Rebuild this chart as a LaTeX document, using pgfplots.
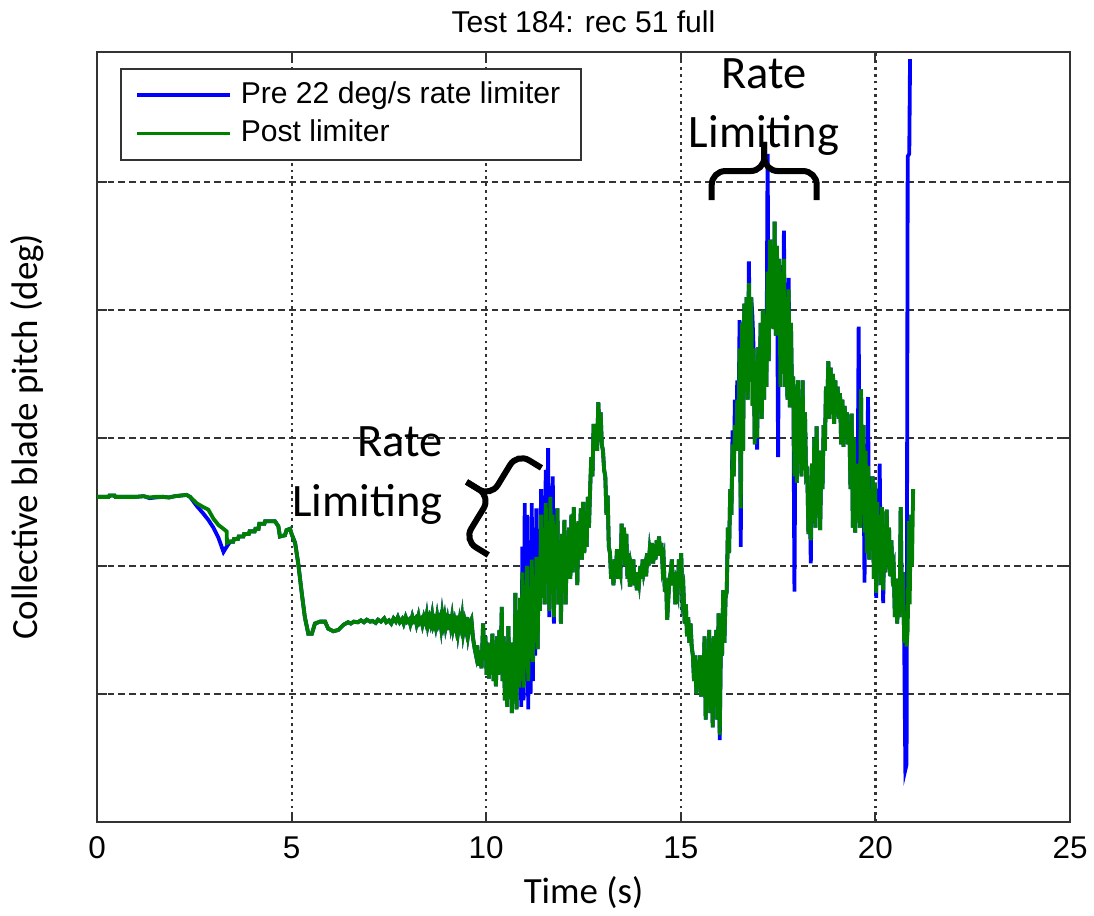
\documentclass[border=0pt]{standalone}
\usepackage{pgfplots}
\pgfplotsset{compat=1.18}
\usepackage{fontspec}
\setmainfont{Liberation Sans}
\newfontfamily\calibri{Carlito}
\definecolor{mblue}{RGB}{0,0,255}
\definecolor{mgreen}{RGB}{0,128,0}
\begin{document}
\begin{tikzpicture}
\useasboundingbox (-35.47pt,-34.37pt) rectangle (364.53pt,300.53pt);
\begin{axis}[
  scale only axis, width=355.76pt, height=281.53pt,
  at={(0,0)}, anchor=south west,
  xmin=0, xmax=25, ymin=0, ymax=6.016,
  xtick={0,5,10,15,20,25}, ytick={1,2,3,4,5}, yticklabels={},
  /pgf/number format/assume math mode=true,
  tick align=inside, major tick length=3.7pt,
  tick style={black!80, line width=0.75pt},
  axis line style={black!80, line width=0.75pt},
  xmajorgrids, ymajorgrids,
  x grid style={black!80, line width=0.8pt, dash pattern=on 1pt off 1.5pt},
  y grid style={black!80, line width=0.8pt, dash pattern=on 2.4pt off 1.5pt},
  xticklabel style={font=\fontsize{11.5}{13}\selectfont, anchor=base, yshift=-13.5pt, inner sep=0pt},
  title={Test 184: rec 51 full},
  every axis title/.style={at={(axis description cs:0.5,1)}, anchor=base, yshift=7pt, inner sep=0pt, font=\fontsize{11}{13}\selectfont},
  xlabel={Time (s)},
  xlabel style={at={([yshift=-30pt]axis description cs:0.5,0)}, anchor=base, inner sep=0pt, font=\calibri\fontsize{13.5}{16}\selectfont},
  ylabel={Collective blade pitch (deg)},
  ylabel style={at={([xshift=-21.9pt]axis description cs:0,0.5)}, anchor=base, inner sep=0pt, font=\calibri\fontsize{13.5}{16}\selectfont},
  legend image code/.code={\draw[#1] (0pt,0pt) -- (33.7pt,0pt);},
  legend style={at={(axis description cs:0.02364,0.97922)}, anchor=north west, draw=black!80, line width=0.75pt, fill=white,
    inner xsep=5.3pt, inner ysep=2.6pt, row sep=0pt, column sep=1pt, font=\fontsize{11}{13}\selectfont,
    nodes={inner xsep=2.4pt, inner ysep=1.7pt, text height=8.2pt, text depth=2.4pt}},
  legend cell align=left,
]
% Pre 22 deg/s rate limiter
\addplot[mblue, line width=1.4pt] coordinates {
(0.00,2.54)(0.30,2.54)(0.32,2.55)(0.45,2.55)(0.47,2.54)(1.00,2.54)(1.20,2.545)(1.35,2.53)(1.50,2.535)(1.70,2.54)(1.85,2.535)(2.00,2.545)(2.15,2.55)(2.30,2.555)
(2.39,2.54)(2.56,2.47)(2.73,2.41)(2.86,2.36)(2.99,2.30)(3.12,2.22)(3.25,2.11)(3.33,2.15)(3.42,2.19)
(3.50,2.19)(3.52,2.21)(3.62,2.21)(3.64,2.23)(3.76,2.23)(3.78,2.25)(3.90,2.25)(3.92,2.27)(4.05,2.27)(4.07,2.29)(4.15,2.29)(4.17,2.33)(4.30,2.33)(4.32,2.35)(4.57,2.35)(4.66,2.31)(4.70,2.23)(4.83,2.24)(4.87,2.28)(4.96,2.29)(5.00,2.25)(5.09,2.18)(5.17,2.02)(5.26,1.79)(5.34,1.60)(5.43,1.47)(5.52,1.47)(5.60,1.55)(5.73,1.565)(5.86,1.565)(5.94,1.51)(6.07,1.49)(6.20,1.50)(6.33,1.54)
(6.45,1.56)(6.52,1.55)(6.60,1.565)(6.70,1.56)(6.78,1.575)(6.86,1.56)(6.93,1.58)(7.02,1.565)(7.08,1.57)(7.16,1.555)(7.22,1.58)(7.30,1.565)(7.38,1.59)(7.43,1.56)(7.50,1.575)(7.56,1.55)(7.62,1.59)(7.68,1.565)(7.73,1.60)(7.78,1.56)(7.84,1.585)(7.88,1.55)(7.93,1.60)(7.97,1.565)(8.02,1.58)(8.05,1.545)(8.10,1.605)(8.13,1.57)(8.18,1.59)(8.21,1.545)(8.26,1.61)(8.29,1.56)(8.33,1.58)(8.36,1.54)(8.40,1.60)(8.44,1.56)(8.47,1.615)(8.50,1.535)(8.54,1.59)(8.57,1.55)(8.61,1.62)(8.64,1.54)(8.67,1.57)(8.70,1.525)(8.74,1.61)(8.77,1.55)(8.81,1.59)(8.84,1.52)(8.87,1.62)(8.90,1.55)(8.93,1.60)(8.96,1.52)(9.00,1.58)(9.03,1.50)(9.06,1.62)(9.09,1.54)(9.12,1.60)(9.15,1.51)(9.19,1.57)(9.22,1.52)(9.25,1.61)(9.28,1.49)(9.32,1.58)(9.35,1.53)(9.38,1.60)(9.41,1.48)(9.45,1.56)(9.48,1.51)(9.51,1.60)(9.54,1.47)(9.58,1.55)
(9.62,1.58)(9.66,1.44)(9.70,1.36)(9.74,1.30)(9.77,1.38)(9.80,1.22)(9.84,1.34)(9.88,1.20)(9.92,1.55)(9.95,1.30)(9.98,1.45)(10.01,1.15)(10.04,1.40)(10.07,1.12)(10.10,1.35)(10.13,1.25)(10.16,1.47)(10.19,1.10)(10.22,1.38)(10.25,1.06)(10.28,1.45)(10.31,1.15)(10.34,1.50)(10.37,1.20)(10.40,1.68)(10.42,1.10)(10.45,1.45)(10.48,0.95)(10.51,1.35)(10.54,0.90)(10.57,1.53)(10.60,1.00)(10.63,1.40)(10.66,0.85)(10.69,1.30)(10.72,0.95)(10.75,1.79)(10.78,0.88)(10.81,1.60)(10.84,1.05)
(10.87,1.75)(10.90,0.90)(10.93,2.15)(10.96,0.95)(10.99,2.49)(11.02,1.10)(11.05,2.40)(11.08,0.88)(11.11,2.20)(11.14,1.00)(11.17,2.49)(11.20,1.10)(11.23,2.30)(11.26,1.30)(11.29,2.45)(11.32,1.35)(11.35,2.20)(11.38,1.65)(11.41,2.60)(11.44,1.75)(11.47,2.55)(11.50,1.70)(11.53,2.75)(11.56,1.90)(11.59,2.92)(11.62,1.60)(11.65,2.62)(11.68,1.80)(11.71,2.70)(11.74,1.55)(11.77,2.45)
(11.80,1.90)(11.83,2.45)(11.86,1.70)(11.89,2.20)(11.92,1.55)(11.95,2.25)(11.98,1.80)(12.01,2.36)(12.04,1.70)(12.07,2.10)(12.10,1.90)(12.13,2.30)(12.16,1.90)(12.19,2.40)(12.22,1.95)(12.25,2.46)(12.28,2.00)(12.31,2.30)(12.34,1.85)(12.37,2.35)(12.40,2.05)(12.43,2.45)(12.46,2.05)(12.49,2.50)(12.52,2.10)(12.55,2.40)(12.58,2.15)(12.61,2.54)(12.64,2.30)(12.67,2.60)(12.70,2.85)(12.73,2.70)(12.76,3.11)(12.79,2.95)(12.82,3.10)(12.85,2.90)(12.88,3.28)(12.91,3.05)(12.94,3.20)(12.97,2.95)(13.00,2.90)(13.03,2.75)(13.06,2.70)(13.09,2.40)(13.12,2.55)(13.15,2.15)(13.18,2.10)(13.21,1.90)(13.24,2.00)(13.27,1.85)(13.30,2.05)(13.33,1.95)(13.36,2.13)(13.39,1.90)(13.42,2.00)(13.45,1.95)(13.48,2.33)(13.51,2.05)(13.54,2.30)(13.57,2.00)(13.60,2.25)(13.63,1.90)(13.66,2.10)(13.69,1.84)(13.72,2.00)(13.75,1.95)(13.78,2.05)(13.81,1.85)(13.84,1.95)(13.87,1.81)(13.90,1.95)(13.93,1.88)(13.96,2.00)(13.99,1.90)(14.02,2.05)(14.05,1.95)(14.08,2.00)(14.11,1.92)(14.14,2.10)(14.17,2.00)(14.20,2.12)(14.23,2.05)(14.26,2.18)(14.29,2.02)(14.32,2.15)(14.35,2.05)(14.38,2.20)(14.41,2.08)(14.44,2.23)(14.47,2.10)(14.50,2.18)(14.53,2.00)(14.56,2.05)(14.59,1.80)(14.62,1.90)(14.65,1.58)(14.68,1.75)(14.71,1.90)(14.74,1.95)(14.77,2.05)(14.80,1.85)(14.83,1.95)(14.86,1.70)(14.89,1.85)(14.92,1.80)(14.95,2.05)(14.98,1.90)(15.01,2.10)(15.04,1.75)(15.07,1.80)(15.10,1.55)(15.13,1.70)(15.16,1.45)(15.19,1.60)(15.22,1.40)(15.25,1.55)(15.28,1.37)(15.31,1.30)(15.34,1.10)(15.37,1.30)(15.40,1.00)(15.43,1.25)(15.46,1.05)(15.49,1.30)(15.52,0.98)(15.55,1.20)(15.58,1.05)(15.61,1.45)(15.64,0.80)(15.67,1.35)(15.70,0.90)(15.73,1.50)(15.76,0.85)(15.79,1.40)(15.82,0.74)(15.85,1.45)(15.88,0.90)(15.91,1.50)(15.94,0.80)(15.97,1.63)(16.00,0.64)(16.03,1.40)(16.06,1.30)(16.09,1.81)(16.12,1.40)(16.15,1.75)(16.18,1.80)(16.21,2.30)(16.24,2.10)(16.27,2.60)(16.30,2.40)(16.33,3.06)(16.36,2.70)(16.39,3.30)(16.42,2.90)(16.45,3.45)(16.48,3.00)(16.51,3.92)(16.54,2.15)(16.57,3.90)(16.60,2.90)(16.63,4.05)(16.66,3.40)(16.69,4.10)(16.72,3.30)(16.75,4.38)(16.78,3.50)(16.81,4.10)(16.84,3.95)(16.87,3.70)(16.90,2.95)(16.93,3.60)(16.96,2.91)(16.99,3.71)(17.02,3.20)(17.05,3.90)(17.08,3.15)(17.11,4.00)(17.14,3.30)(17.17,3.95)(17.20,3.40)(17.23,5.22)(17.26,3.60)(17.29,4.55)(17.32,3.90)(17.35,4.50)(17.38,3.85)(17.41,4.69)(17.44,3.80)(17.47,4.50)(17.50,2.85)(17.53,4.40)(17.56,3.40)(17.59,4.30)(17.62,3.50)(17.65,4.62)(17.68,3.40)(17.71,4.10)(17.74,3.30)(17.77,4.25)(17.80,3.24)(17.83,3.90)(17.86,3.30)(17.89,3.48)(17.92,1.80)(17.95,3.40)(17.98,2.65)(18.01,3.45)(18.04,2.80)(18.07,3.30)(18.10,2.70)(18.13,3.45)(18.16,2.75)(18.19,3.20)(18.22,2.70)(18.25,2.72)(18.28,2.25)(18.31,2.60)(18.34,2.02)(18.37,2.80)(18.40,2.40)(18.43,3.00)(18.46,2.30)(18.49,3.09)(18.52,2.50)(18.55,2.90)(18.58,2.28)(18.61,2.80)(18.64,2.60)(18.67,3.10)(18.70,2.90)(18.73,3.40)(18.76,3.20)(18.79,3.60)(18.82,3.15)(18.85,3.55)(18.88,3.20)(18.91,3.50)(18.94,3.11)(18.97,3.45)(19.00,3.20)(19.03,3.40)(19.06,3.15)(19.09,3.35)(19.12,2.95)(19.15,3.30)(19.18,2.93)(19.21,3.25)(19.24,3.00)(19.27,3.20)(19.30,2.95)(19.33,3.10)(19.36,2.60)(19.39,3.19)(19.42,2.30)(19.45,3.00)(19.48,2.26)(19.51,2.80)(19.54,2.40)(19.57,3.87)(19.60,2.30)(19.63,3.38)(19.66,2.40)(19.69,3.10)(19.72,1.87)(19.75,2.90)(19.78,2.10)(19.81,3.32)(19.84,2.05)(19.87,2.60)(19.90,2.20)(19.93,2.70)(19.96,1.90)(19.99,2.65)(20.02,1.75)(20.05,2.50)(20.08,2.00)(20.11,2.80)(20.14,1.85)(20.17,2.46)(20.20,1.71)(20.23,2.30)(20.26,1.95)(20.29,2.44)(20.32,2.00)(20.35,2.30)(20.38,1.92)(20.41,2.20)(20.44,1.95)(20.47,1.99)(20.50,1.60)(20.53,1.90)(20.56,1.55)(20.59,1.85)(20.62,1.60)(20.65,2.46)(20.68,1.65)(20.71,1.95)(20.74,1.40)(20.77,0.41)(20.80,0.45)(20.83,5.20)(20.87,5.22)(20.89,5.96)
};
\addlegendentry{Pre 22 deg/s rate limiter}
% Post limiter
\addplot[mgreen, line width=1.4pt] coordinates {
(0.00,2.54)(0.30,2.54)(0.32,2.55)(0.45,2.55)(0.47,2.54)(1.00,2.54)(1.20,2.545)(1.35,2.535)(1.50,2.54)(1.70,2.54)(1.85,2.535)(2.00,2.545)(2.15,2.55)(2.30,2.555)
(2.39,2.54)(2.56,2.49)(2.73,2.46)(2.86,2.44)(2.99,2.37)(3.12,2.32)(3.25,2.29)(3.33,2.27)(3.34,2.18)(3.42,2.19)
(3.50,2.19)(3.52,2.21)(3.62,2.21)(3.64,2.23)(3.76,2.23)(3.78,2.25)(3.90,2.25)(3.92,2.27)(4.05,2.27)(4.07,2.29)(4.15,2.29)(4.17,2.33)(4.30,2.33)(4.32,2.35)(4.57,2.35)(4.66,2.31)(4.70,2.23)(4.83,2.24)(4.87,2.28)(4.96,2.29)(5.00,2.25)(5.09,2.18)(5.17,2.02)(5.26,1.79)(5.34,1.60)(5.43,1.47)(5.52,1.47)(5.60,1.55)(5.73,1.565)(5.86,1.565)(5.94,1.51)(6.07,1.49)(6.20,1.50)(6.33,1.54)
(6.45,1.56)(6.52,1.55)(6.60,1.565)(6.70,1.56)(6.78,1.575)(6.86,1.56)(6.93,1.58)(7.02,1.565)(7.08,1.57)(7.16,1.555)(7.22,1.58)(7.30,1.565)(7.38,1.59)(7.43,1.56)(7.50,1.575)(7.56,1.55)(7.62,1.59)(7.68,1.565)(7.73,1.60)(7.78,1.56)(7.84,1.585)(7.88,1.55)(7.93,1.60)(7.97,1.565)(8.02,1.58)(8.05,1.545)(8.10,1.605)(8.13,1.57)(8.18,1.59)(8.21,1.545)(8.26,1.61)(8.29,1.56)(8.33,1.58)(8.36,1.54)(8.40,1.60)(8.44,1.56)(8.47,1.615)(8.50,1.535)(8.54,1.59)(8.57,1.55)(8.61,1.62)(8.64,1.54)(8.67,1.57)(8.70,1.525)(8.74,1.61)(8.77,1.55)(8.81,1.59)(8.84,1.52)(8.87,1.62)(8.90,1.55)(8.93,1.60)(8.96,1.52)(9.00,1.58)(9.03,1.50)(9.06,1.62)(9.09,1.54)(9.12,1.60)(9.15,1.51)(9.19,1.57)(9.22,1.52)(9.25,1.61)(9.28,1.49)(9.32,1.58)(9.35,1.53)(9.38,1.60)(9.41,1.48)(9.45,1.56)(9.48,1.51)(9.51,1.60)(9.54,1.47)(9.58,1.55)
(9.62,1.58)(9.66,1.44)(9.70,1.36)(9.74,1.30)(9.77,1.38)(9.80,1.22)(9.84,1.34)(9.88,1.20)(9.92,1.55)(9.95,1.30)(9.98,1.45)(10.01,1.15)(10.04,1.40)(10.07,1.12)(10.10,1.35)(10.13,1.25)(10.16,1.47)(10.19,1.10)(10.22,1.38)(10.25,1.06)(10.28,1.45)(10.31,1.15)(10.34,1.50)(10.37,1.20)(10.40,1.68)(10.42,1.10)(10.45,1.45)(10.48,0.95)(10.51,1.35)(10.54,0.90)(10.57,1.53)(10.60,1.00)(10.63,1.40)(10.66,0.85)(10.69,1.30)(10.72,0.95)(10.75,1.79)(10.78,0.88)(10.81,1.60)(10.84,1.05)
(10.87,1.75)(10.90,1.10)(10.93,1.95)(10.96,1.05)(10.99,1.85)(11.02,1.20)(11.05,2.00)(11.08,1.10)(11.11,1.70)(11.14,1.30)(11.17,2.05)(11.20,1.25)(11.23,1.90)(11.26,1.40)(11.29,2.07)(11.32,1.35)(11.35,1.95)(11.38,1.65)(11.41,2.40)(11.44,1.75)(11.47,2.30)(11.50,1.70)(11.53,2.49)(11.56,1.90)(11.59,2.35)(11.62,1.65)(11.65,2.54)(11.68,1.80)(11.71,2.40)(11.74,1.60)(11.77,2.30)
(11.80,1.90)(11.83,2.45)(11.86,1.70)(11.89,2.20)(11.92,1.55)(11.95,2.25)(11.98,1.80)(12.01,2.36)(12.04,1.70)(12.07,2.10)(12.10,1.90)(12.13,2.30)(12.16,1.90)(12.19,2.40)(12.22,1.95)(12.25,2.46)(12.28,2.00)(12.31,2.30)(12.34,1.85)(12.37,2.35)(12.40,2.05)(12.43,2.45)(12.46,2.05)(12.49,2.50)(12.52,2.10)(12.55,2.40)(12.58,2.15)(12.61,2.54)(12.64,2.30)(12.67,2.60)(12.70,2.85)(12.73,2.70)(12.76,3.11)(12.79,2.95)(12.82,3.10)(12.85,2.90)(12.88,3.28)(12.91,3.05)(12.94,3.20)(12.97,2.95)(13.00,2.90)(13.03,2.75)(13.06,2.70)(13.09,2.40)(13.12,2.55)(13.15,2.15)(13.18,2.10)(13.21,1.90)(13.24,2.00)(13.27,1.85)(13.30,2.05)(13.33,1.95)(13.36,2.13)(13.39,1.90)(13.42,2.00)(13.45,1.95)(13.48,2.33)(13.51,2.05)(13.54,2.30)(13.57,2.00)(13.60,2.25)(13.63,1.90)(13.66,2.10)(13.69,1.84)(13.72,2.00)(13.75,1.95)(13.78,2.05)(13.81,1.85)(13.84,1.95)(13.87,1.81)(13.90,1.95)(13.93,1.88)(13.96,2.00)(13.99,1.90)(14.02,2.05)(14.05,1.95)(14.08,2.00)(14.11,1.92)(14.14,2.10)(14.17,2.00)(14.20,2.12)(14.23,2.05)(14.26,2.18)(14.29,2.02)(14.32,2.15)(14.35,2.05)(14.38,2.20)(14.41,2.08)(14.44,2.23)(14.47,2.10)(14.50,2.18)(14.53,2.00)(14.56,2.05)(14.59,1.80)(14.62,1.90)(14.65,1.58)(14.68,1.75)(14.71,1.90)(14.74,1.95)(14.77,2.05)(14.80,1.85)(14.83,1.95)(14.86,1.70)(14.89,1.85)(14.92,1.80)(14.95,2.05)(14.98,1.90)(15.01,2.10)(15.04,1.75)(15.07,1.80)(15.10,1.55)(15.13,1.70)(15.16,1.45)(15.19,1.60)(15.22,1.40)(15.25,1.55)(15.28,1.37)(15.31,1.30)(15.34,1.10)(15.37,1.30)(15.40,1.00)(15.43,1.25)(15.46,1.05)(15.49,1.30)(15.52,0.98)(15.55,1.20)(15.58,1.05)(15.61,1.45)(15.64,0.80)(15.67,1.35)(15.70,0.90)(15.73,1.50)(15.76,0.85)(15.79,1.40)(15.82,0.74)(15.85,1.45)(15.88,0.90)(15.91,1.50)(15.94,0.80)(15.97,1.63)(16.00,0.68)(16.03,1.40)(16.06,1.30)(16.09,1.81)(16.12,1.40)(16.15,1.75)(16.18,1.80)(16.21,2.30)(16.24,2.10)(16.27,2.60)(16.30,2.40)(16.33,2.95)(16.36,2.70)(16.39,3.10)(16.42,2.90)(16.45,3.30)(16.48,3.00)(16.51,3.70)(16.54,2.45)(16.57,3.90)(16.60,2.90)(16.63,4.05)(16.66,3.40)(16.69,4.10)(16.72,3.30)(16.75,4.21)(16.78,3.50)(16.81,4.10)(16.84,3.25)(16.87,3.70)(16.90,2.95)(16.93,3.60)(16.96,3.00)(16.99,3.71)(17.02,3.20)(17.05,3.90)(17.08,3.15)(17.11,4.00)(17.14,3.30)(17.17,3.95)(17.20,3.40)(17.23,4.30)(17.26,3.60)(17.29,4.55)(17.32,3.90)(17.35,4.50)(17.38,3.85)(17.41,4.69)(17.44,3.80)(17.47,4.50)(17.50,3.80)(17.53,4.40)(17.56,3.40)(17.59,4.30)(17.62,3.50)(17.65,4.40)(17.68,3.40)(17.71,4.10)(17.74,3.30)(17.77,4.16)(17.80,3.24)(17.83,3.90)(17.86,3.30)(17.89,3.48)(17.92,2.70)(17.95,3.40)(17.98,2.65)(18.01,3.45)(18.04,2.80)(18.07,3.30)(18.10,2.70)(18.13,3.45)(18.16,2.75)(18.19,3.20)(18.22,2.70)(18.25,2.72)(18.28,2.25)(18.31,2.60)(18.34,2.20)(18.37,2.80)(18.40,2.40)(18.43,3.00)(18.46,2.30)(18.49,3.09)(18.52,2.50)(18.55,2.90)(18.58,2.28)(18.61,2.80)(18.64,2.60)(18.67,3.10)(18.70,2.90)(18.73,3.40)(18.76,3.20)(18.79,3.60)(18.82,3.15)(18.85,3.55)(18.88,3.20)(18.91,3.50)(18.94,3.11)(18.97,3.45)(19.00,3.20)(19.03,3.40)(19.06,3.15)(19.09,3.35)(19.12,2.95)(19.15,3.30)(19.18,2.93)(19.21,3.25)(19.24,3.00)(19.27,3.20)(19.30,2.95)(19.33,3.10)(19.36,2.60)(19.39,3.19)(19.42,2.30)(19.45,3.00)(19.48,2.26)(19.51,2.80)(19.54,2.40)(19.57,2.70)(19.60,2.30)(19.63,3.38)(19.66,2.40)(19.69,3.10)(19.72,2.26)(19.75,2.90)(19.78,2.10)(19.81,2.78)(19.84,2.05)(19.87,2.60)(19.90,2.20)(19.93,2.70)(19.96,1.90)(19.99,2.65)(20.02,1.79)(20.05,2.50)(20.08,2.00)(20.11,2.40)(20.14,1.85)(20.17,2.46)(20.20,1.81)(20.23,2.30)(20.26,1.95)(20.29,2.44)(20.32,2.00)(20.35,2.30)(20.38,1.92)(20.41,2.20)(20.44,1.95)(20.47,1.99)(20.50,1.60)(20.53,1.90)(20.56,1.55)(20.59,1.85)(20.62,1.60)(20.65,2.46)(20.68,1.65)(20.71,1.95)(20.74,1.40)(20.77,1.63)(20.80,1.37)(20.83,1.50)(20.86,2.35)(20.88,1.70)(20.91,2.40)(20.94,2.00)(20.97,2.60)
};
\addlegendentry{Post limiter}
% annotations
\node[anchor=base east, inner sep=0pt, font=\calibri\fontsize{17}{20}\selectfont] at (axis cs:8.890,2.852) {Rate};
\node[anchor=base east, inner sep=0pt, font=\calibri\fontsize{17}{20}\selectfont] at (axis cs:8.890,2.383) {Limiting};
\node[anchor=base, inner sep=0pt, font=\calibri\fontsize{17}{20}\selectfont] at (axis cs:17.138,5.734) {Rate};
\node[anchor=base, inner sep=0pt, font=\calibri\fontsize{17}{20}\selectfont] at (axis cs:17.138,5.273) {Limiting};
\coordinate (b1) at (axis cs:10.054,2.086);
\coordinate (b2) at (axis cs:15.794,4.859);
\end{axis}
% brace 1 (rotated)
\begin{scope}[shift={(b1)}, rotate=58.6]
\draw[black, line width=2.2pt, rounded corners=5pt] (0pt,0pt) -- (0pt,10.35pt) -- (18.65pt,10.35pt) -- (18.65pt,20.7pt);
\draw[black, line width=2.2pt, rounded corners=5pt] (37.3pt,0pt) -- (37.3pt,10.35pt) -- (18.65pt,10.35pt) -- (18.65pt,20.7pt);
\end{scope}
% brace 2
\begin{scope}[shift={(b2)}]
\draw[black, line width=2.2pt, rounded corners=5pt] (0pt,0pt) -- (0pt,10.6pt) -- (19.2pt,10.6pt) -- (19.2pt,21.3pt);
\draw[black, line width=2.2pt, rounded corners=5pt] (38.4pt,0pt) -- (38.4pt,10.6pt) -- (19.2pt,10.6pt) -- (19.2pt,21.3pt);
\end{scope}
\end{tikzpicture}
\end{document}
